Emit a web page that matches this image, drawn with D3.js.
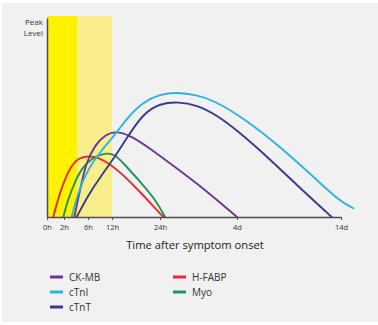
<!DOCTYPE html>
<html>
<head>
<meta charset="utf-8">
<script src="https://cdn.jsdelivr.net/npm/d3@7"></script>
<style>
  html, body { margin: 0; padding: 0; background: #ffffff; }
  svg { display: block; font-family: "Open Sans", "Noto Sans", sans-serif; }
</style>
</head>
<body>
<svg id="chart" width="378" height="325"></svg>
<script>
// ---- data (hours after onset, level as % of peak-axis height) ----
const tickHours  = [0, 2, 6, 12, 24, 96, 336];
const tickLabels = ["0h", "2h", "6h", "12h", "24h", "4d", "14d"];

const bandStarts = [0, 4.2];
const bandEnds   = [4.2, 12];
const bandColors = ["#fff200", "#f8ee8c"];

const ckmb  = [[3.72,0],[4.95,17.7],[5.78,27.8],[7.75,36.2],[10.25,41.2],[12.75,43.2],[16.5,41.2],[21.5,34.5],[39.6,24.5],[64.5,14.4],[96,0]];
const ctni  = [[3.28,0],[4.38,12.7],[6.08,24.5],[9.43,33.7],[12.75,41.2],[15.68,49.6],[19.83,57.9],[24,61.7],[39.6,62.7],[58.3,61.3],[73.8,58.8],[118.4,48.7],[195.2,35.3],[272.1,20.3],[333.7,7.7],[364.4,4.4]];
const ctnt  = [[4.12,0],[6.08,11.1],[9.43,21.1],[12,28.1],[15.68,39.7],[19.83,52.1],[24,57.1],[41.1,57.9],[58.3,56.3],[77,51.3],[99,43],[156.7,32.1],[233.8,16.1],[314.5,0]];
const hfabp = [[0.74,0],[1.33,9.4],[2.17,19.4],[3.28,26.1],[4.38,29.5],[6.08,30.7],[8.58,30],[11.9,26.1],[14.8,21.1],[19,12.7],[23.2,3.5],[27.1,0]];
const myo   = [[1.92,0],[2.72,9.4],[3.83,17.7],[4.95,24.5],[6.93,29.5],[10.25,32.3],[12.75,31.5],[14.8,27.1],[19.8,16.1],[23.2,7.7],[28.7,0]];

const seriesNames  = ["CK-MB", "cTnI", "cTnT", "H-FABP", "Myo"];
const seriesData   = [ckmb, ctni, ctnt, hfabp, myo];
const seriesColors = ["#6b3792", "#2ab4e6", "#3b3a8e", "#e62a2f", "#1f9654"];
const drawOrder    = [3, 4, 0, 1, 2];

const yLabelLines = ["Peak", "Level"];
const xTitle = "Time after symptom onset";

// ---- drawing ----
const svg = d3.select("#chart");

svg.append("rect").attr("x", 2).attr("y", 3).attr("width", 376).attr("height", 319).attr("fill", "#f1f1f1");

const x = d3.scaleLinear().domain(tickHours).range([47, 64, 88, 112, 160, 237, 341]);
const y = d3.scaleLinear().domain([0, 100]).range([217, 18]);

// shaded time windows
svg.append("g").selectAll("rect").data(bandStarts).join("rect")
  .attr("x", (d) => x(d))
  .attr("width", (d, i) => x(bandEnds[i]) - x(d))
  .attr("y", 16)
  .attr("height", y(0) - 16)
  .attr("fill", (d, i) => bandColors[i]);

// curves
const line = d3.line().x(d => x(d[0])).y(d => y(d[1])).curve(d3.curveBasis);
svg.append("g").selectAll("path").data(drawOrder).join("path")
  .attr("d", i => line(seriesData[i]))
  .attr("fill", "none")
  .attr("stroke", i => seriesColors[i])
  .attr("stroke-width", 1.9)
  .attr("stroke-linecap", "round");

// axes
const xAxis = d3.axisBottom(x).tickValues(tickHours).tickFormat((d, i) => tickLabels[i])
  .tickSizeInner(3).tickSizeOuter(0).tickPadding(5);
const gx = svg.append("g").attr("transform", `translate(0,${y(0)})`).call(xAxis);
gx.select(".domain").attr("stroke", "#4d4d4d").attr("stroke-width", 1.5);
gx.selectAll(".tick line").attr("stroke", "#4d4d4d").attr("stroke-width", 1);
gx.selectAll(".tick text").attr("font-size", 7.5).attr("fill", "#333").attr("font-family", "Open Sans");

const yAxis = d3.axisLeft(y).tickValues([]).tickSizeOuter(0);
const gy = svg.append("g").attr("transform", `translate(${x(0)},0)`).call(yAxis);
gy.select(".domain").attr("stroke", "#4d4d4d").attr("stroke-width", 1.5);

svg.append("g").selectAll("text").data(yLabelLines).join("text")
  .attr("x", 43).attr("y", (d, i) => 25 + i * 11)
  .attr("text-anchor", "end").attr("font-size", 8).attr("fill", "#333")
  .text(d => d);

svg.append("text").attr("x", 195).attr("y", 249).attr("text-anchor", "middle")
  .attr("font-size", 11.2).attr("fill", "#222").text(xTitle);

// legend
const legendCol = [0, 0, 0, 1, 1];
const legendRow = [0, 1, 2, 0, 1];
const lg = svg.append("g").selectAll("g").data(seriesNames).join("g")
  .attr("transform", (d, i) => `translate(${50 + legendCol[i] * 123},${277 + legendRow[i] * 15})`);
lg.append("line").attr("x1", 0).attr("x2", 13).attr("y1", 0).attr("y2", 0)
  .attr("stroke", (d, i) => seriesColors[i]).attr("stroke-width", 3);
lg.append("text").attr("x", 19).attr("y", 3.5).attr("font-size", 10).attr("fill", "#333").text(d => d);
</script>
</body>
</html>
